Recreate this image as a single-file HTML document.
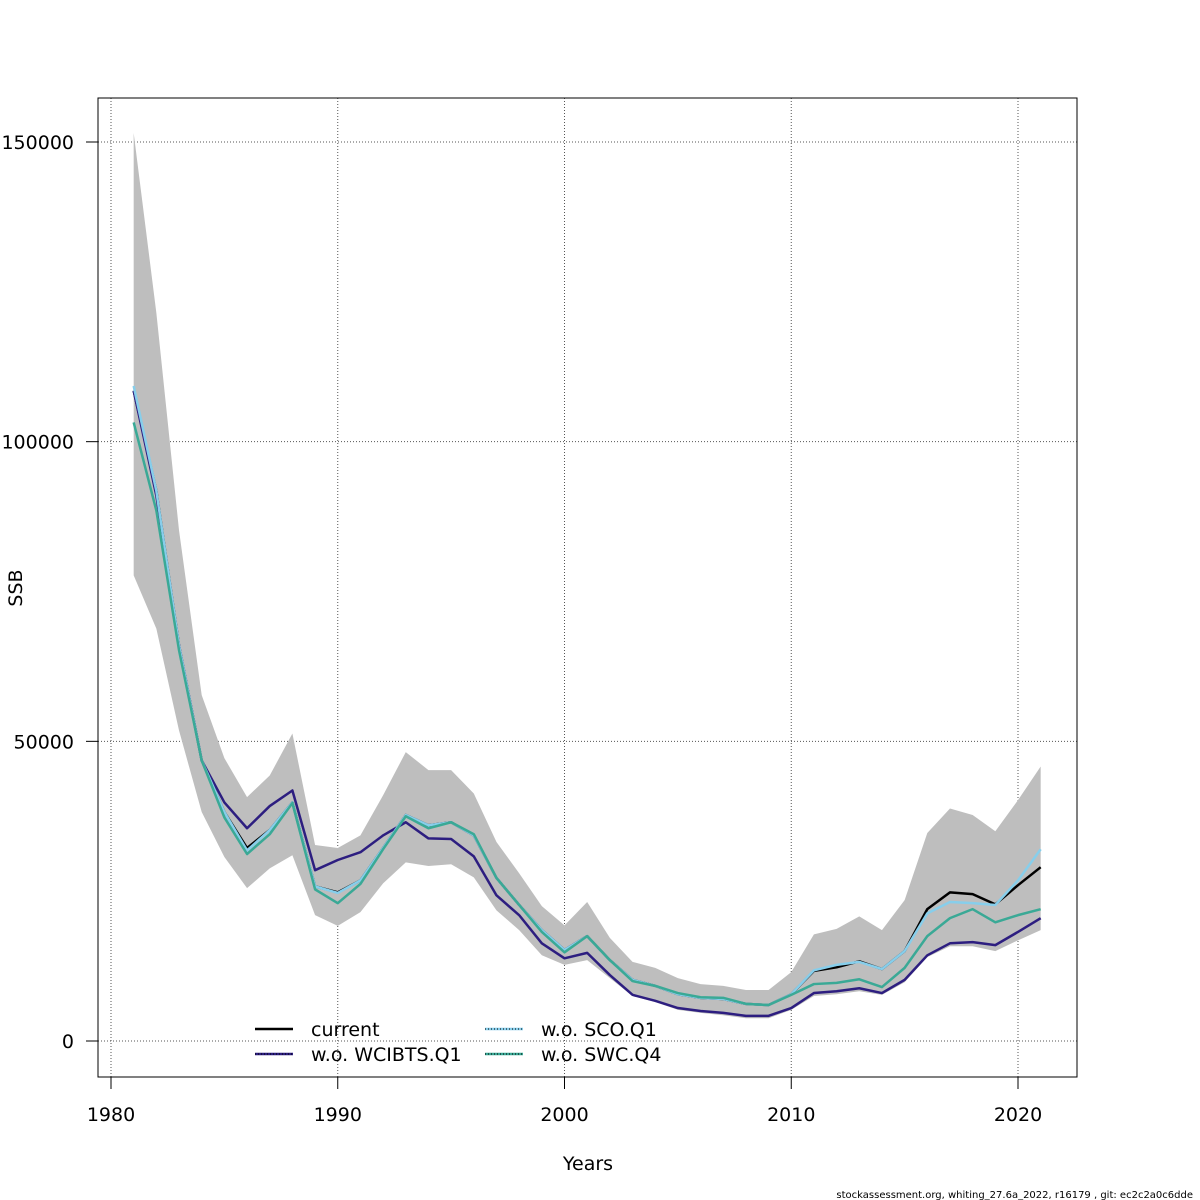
<!DOCTYPE html>
<html><head><meta charset="utf-8">
<style>
html,body{margin:0;padding:0;background:#fff;}
svg{display:block;font-family:"DejaVu Sans","Liberation Sans",sans-serif;}
</style></head>
<body>
<svg id="chart" width="1200" height="1200" viewBox="0 0 1200 1200" xmlns="http://www.w3.org/2000/svg">
<rect width="1200" height="1200" fill="#fff"/>
<g id="grid"></g>
<g id="band"></g>
<g id="lines"></g>
<rect x="98" y="98" width="979" height="979" fill="none" stroke="#000" stroke-width="1"/>
<g id="axes"></g>
<text x="588" y="1170" font-size="19" text-anchor="middle">Years</text>
<text x="22" y="588" font-size="19" text-anchor="middle" transform="rotate(-90 22 588)">SSB</text>
<text x="1193" y="1198" font-size="10" text-anchor="end">stockassessment.org, whiting_27.6a_2022, r16179 , git: ec2c2a0c6dde</text>
<g id="legend"></g>
</svg>
<script>
const years = [];
for (let y = 1981; y <= 2021; y++) years.push(y);
const upperBand = [151.5,121.5,85.2,57.7,47.2,40.7,44.3,51.3,32.7,32.2,34.3,41,48.2,45.2,45.2,41.3,33.2,28,22.5,19.3,23.2,17.2,13.2,12.2,10.5,9.5,9.2,8.5,8.5,11.5,17.8,18.7,20.8,18.5,23.5,34.7,38.8,37.7,35,40.2,45.8];
const lowerBand = [77.7,68.8,51.8,38.2,30.7,25.5,28.8,31,21,19.2,21.5,26.3,29.8,29.2,29.5,27.3,21.8,18.5,14.3,12.7,13.5,10.5,7.5,6.5,5.2,4.7,4.3,3.8,3.8,5.2,7.5,7.8,8.3,7.7,9.8,14,15.8,15.8,15,16.8,18.5];
const current = [108.5,91.8,66,46.8,38.2,32.2,35.2,39.8,25.8,24.8,26.8,32.2,37.7,36,36.5,34.3,27.2,22.7,18.5,15.2,17.5,13.5,10.2,9.2,7.8,7.2,7,6.2,6,7.8,11.7,12.3,13.3,12,15,22,24.8,24.5,22.8,26,29];
const woWCIBTS = [108.5,91,66,46.8,39.8,35.5,39.2,41.8,28.5,30.2,31.5,34.3,36.5,33.8,33.7,30.8,24.3,21,16.3,13.8,14.7,11,7.7,6.7,5.5,5,4.7,4.2,4.2,5.5,8,8.3,8.8,8,10.2,14.3,16.3,16.5,16,18.2,20.5];
const woSCO = [109.3,91.8,66,46.8,38.2,31.8,35.2,39.8,25.8,24.7,26.8,32.2,37.7,36,36.5,34.3,27.2,22.7,18.5,15.2,17.5,13.5,10.2,9.2,7.8,7.2,7,6.2,6,7.8,11.8,12.7,13.2,12,15,21.3,23.2,23,22.7,26.8,32];
const woSWC = [103.2,88.5,65.2,46.8,37.3,31.2,34.5,39.7,25.3,23,26.2,32,37.5,35.5,36.5,34.5,27.2,22.7,18.2,14.8,17.5,13.5,10,9.2,8,7.3,7.2,6.2,6,7.7,9.5,9.7,10.3,9,12.2,17.5,20.5,22,19.8,21,22];
const xTicks = [1980,1990,2000,2010,2020];
const yTicks = [0,50000,100000,150000];
const yTickLabels = ["0","50000","100000","150000"];

const NS = "http://www.w3.org/2000/svg";
const X = yr => 111 + (yr - 1980) * 22.675;
const Y = v => 1041 - v * 0.0059933;  // v in absolute SSB
const Yk = k => Y(k * 1000);
function mk(tag, attrs, parent){const e=document.createElementNS(NS,tag);for(const k in attrs)e.setAttribute(k,attrs[k]);parent.appendChild(e);return e;}

const grid = document.getElementById('grid');
xTicks.forEach(t=>{
  const l = mk('line',{x1:X(t),x2:X(t),y1:98,y2:1077,stroke:'#555','stroke-width':1,'stroke-dasharray':'1,2'},grid);
  
  
});
yTicks.forEach(t=>{
  const l = mk('line',{x1:98,x2:1077,y1:Y(t),y2:Y(t),stroke:'#555','stroke-width':1,'stroke-dasharray':'1,2'},grid);
  
  
});

const band = document.getElementById('band');
let pts = years.map((y,i)=>X(y)+','+Yk(upperBand[i]));
for (let i=years.length-1;i>=0;i--) pts.push(X(years[i])+','+Yk(lowerBand[i]));
const poly = mk('polygon',{points:pts.join(' '),fill:'#bebebe',stroke:'none'},band);



const lines = document.getElementById('lines');
function series(arr,color,w,name){
  const p = mk('polyline',{points:years.map((y,i)=>X(y)+','+Yk(arr[i])).join(' '),fill:'none',stroke:color,'stroke-width':w,'stroke-linejoin':'round'},lines);
  
  
}
series(current,'#000',2.5,'line-current');
series(woWCIBTS,'#2d1e80',2.5,'line-wo-wcibts-q1');
series(woSCO,'#87ceeb',2.5,'line-wo-sco-q1');
series(woSWC,'#3aa996',2.5,'line-wo-swc-q4');

const axes = document.getElementById('axes');
xTicks.forEach(t=>{
  const l = mk('line',{x1:X(t),x2:X(t),y1:1077,y2:1089,stroke:'#000'},axes);
  
  
  const tx = mk('text',{x:X(t),y:1121,'font-size':19,'text-anchor':'middle'},axes);
  tx.textContent = t;
  
  
});
yTicks.forEach((t,i)=>{
  const l = mk('line',{x1:86,x2:98,y1:Y(t),y2:Y(t),stroke:'#000'},axes);
  
  
  const tx = mk('text',{x:74,y:Y(t)+7,'font-size':19,'text-anchor':'end'},axes);
  tx.textContent = yTickLabels[i];
  
  
});

const legend = document.getElementById('legend');
const legItems = [
  {label:'current',color:'#000',x:255,y:1029},
  {label:'w.o. WCIBTS.Q1',color:'#2d1e80',x:255,y:1054},
  {label:'w.o. SCO.Q1',color:'#87ceeb',x:485,y:1029},
  {label:'w.o. SWC.Q4',color:'#3aa996',x:485,y:1054}
];
legItems.forEach((it,i)=>{
  const l = mk('line',{x1:it.x,x2:it.x+38,y1:it.y,y2:it.y,stroke:it.color,'stroke-width':2.5},legend);
  
  
  if(i>0){
    const d = mk('line',{x1:it.x,x2:it.x+38,y1:it.y,y2:it.y,stroke:'#000','stroke-width':1,'stroke-dasharray':'1,2'},legend);
    
    
  }
  const t = mk('text',{x:it.x+56,y:it.y+7,'font-size':19},legend);
  t.textContent = it.label;
  
  
});
</script>
</body></html>
